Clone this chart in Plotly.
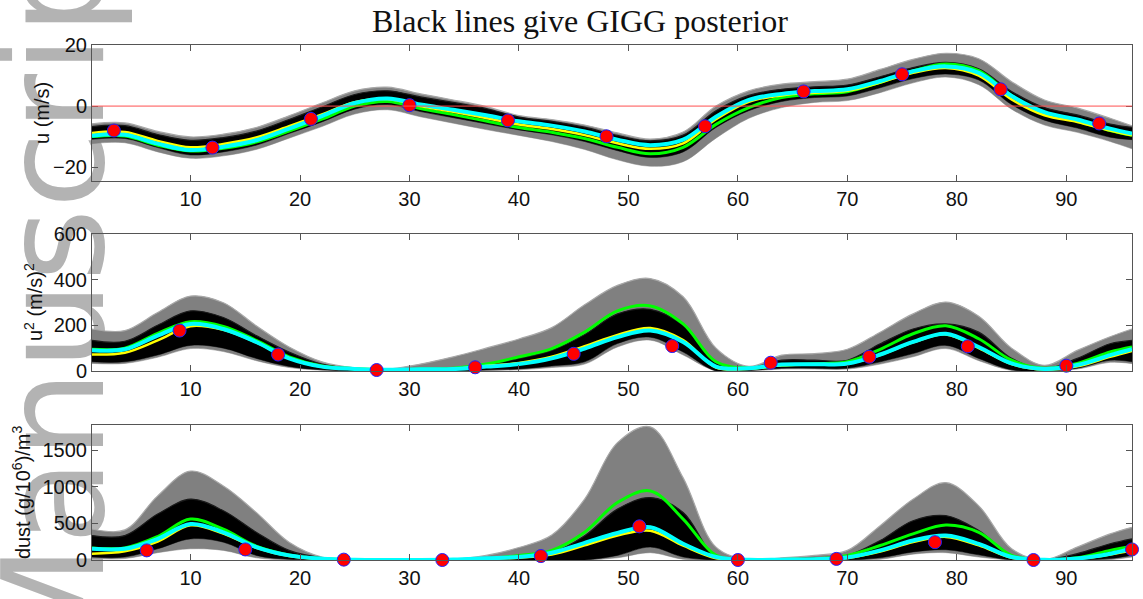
import plotly.graph_objects as go

# ---------------- data ----------------
X = [1, 4, 7, 10, 13, 16, 19, 22, 25, 28, 31, 34, 37, 40, 43, 46, 49, 52, 55, 58, 61,
     64, 67, 70, 73, 76, 79, 82, 85, 88, 91, 94, 96]

# panel 1 : u (m/s)
u_obs_x = [3, 12, 21, 30, 39, 48, 57, 66, 75, 84, 93]
u_obs = [-8.0, -13.6, -4.2, 0.3, -4.7, -9.9, -6.6, 4.8, 10.4, 5.5, -5.7]
u_cyan = [-9.7, -9.4, -12.3, -14.4, -13.3, -11.2, -7.4, -3.3, 1.0, 2.5, 0.5, -1.2, -3.0, -5.0, -6.4,
          -8.3, -11.0, -12.8, -11.0, -3.5, 2.0, 4.0, 4.9, 5.5, 8.2, 11.4, 13.0, 10.9, 3.3, -2.0,
          -4.4, -7.4, -9.0]
u_yellow = [-8.8, -8.5, -11.4, -13.5, -12.4, -10.3, -6.6, -2.7, 1.3, 2.3, 0.0, -1.9, -3.9, -6.0,
            -7.5, -9.5, -12.2, -14.0, -12.2, -4.3, 1.4, 3.5, 4.4, 5.0, 7.7, 10.9, 12.5, 10.0, 2.2,
            -3.0, -5.2, -8.0, -9.6]
u_green = [-10.0, -9.8, -12.8, -14.7, -13.8, -11.8, -8.2, -4.3, 0.0, 1.5, -0.8, -2.8, -4.9, -7.0,
           -8.6, -10.6, -13.5, -15.6, -13.5, -6.0, -0.5, 2.8, 4.0, 4.7, 7.8, 11.5, 13.8, 11.6, 3.5,
           -2.4, -5.0, -8.0, -9.6]
u_black_hi = [-6.7, -6.4, -9.3, -11.2, -10.3, -8.2, -4.4, -0.3, 3.8, 5.0, 3.0, 1.2, -0.8, -3.6,
              -5.0, -6.9, -9.6, -11.4, -9.5, -1.5, 3.5, 5.5, 6.3, 6.9, 9.6, 12.6, 14.3, 12.2, 4.8,
              -0.5, -2.9, -5.9, -7.0]
u_black_lo = [-10.9, -10.6, -13.6, -16.0, -15.0, -12.8, -9.0, -5.2, -1.0, 0.5, -1.8, -3.8, -5.8,
              -7.8, -9.4, -11.6, -14.6, -16.8, -15.0, -7.0, -1.5, 1.5, 2.8, 3.3, 6.0, 9.0, 10.5,
              8.5, 0.5, -4.6, -7.2, -10.2, -11.0]
u_grey_hi = [-5.8, -5.5, -8.3, -10.1, -9.2, -7.0, -3.2, 1.0, 5.0, 6.2, 4.0, 2.0, -0.2, -3.1, -4.4,
             -6.2, -8.8, -10.8, -8.5, 0.0, 5.0, 7.2, 8.0, 8.8, 12.0, 15.3, 17.3, 15.5, 8.0, 2.0,
             -0.6, -4.0, -6.5]
u_grey_lo = [-12.3, -12.0, -15.0, -17.1, -16.3, -14.2, -10.5, -6.7, -2.6, -1.2, -3.5, -5.6, -7.7,
             -9.6, -11.6, -14.2, -17.6, -19.7, -18.2, -10.5, -4.0, -0.5, 1.2, 1.8, 4.4, 7.6, 9.5,
             7.0, -1.0, -6.2, -8.6, -11.6, -14.0]

# panel 2 : u^2
u2_obs_x = [9, 18, 27, 36, 45, 54, 63, 72, 81, 90]
u2_obs = [177, 72, 4, 16, 75, 109, 36, 62, 108, 23]
u2_cyan = [91, 95, 155, 206, 184, 127, 55, 19, 9, 5, 7, 8, 19, 30, 55, 98, 148, 177, 127, 19, 12,
           28, 29, 33, 72, 127, 163, 105, 33, 9, 26, 69, 95]
u2_yellow = [72, 80, 134, 196, 180, 125, 55, 18, 8, 5, 7, 9, 22, 35, 62, 108, 158, 188, 135, 15, 10,
             25, 28, 32, 70, 125, 160, 100, 30, 6, 20, 62, 88]
u2_green = [95, 100, 165, 216, 195, 134, 62, 22, 10, 6, 8, 12, 30, 62, 98, 170, 263, 285, 206, 40,
            12, 26, 32, 40, 95, 163, 198, 141, 47, 12, 33, 83, 105]
u2_black_hi = [134, 130, 200, 263, 234, 155, 83, 30, 10, 6, 8, 14, 28, 55, 90, 160, 250, 270, 200,
               35, 12, 47, 47, 47, 119, 184, 206, 170, 55, 10, 55, 119, 134]
u2_black_lo = [40, 40, 70, 112, 100, 55, 20, 5, 0, 0, 0, 0, 4, 9, 22, 40, 120, 148, 83, 0, 2, 12,
               12, 12, 40, 76, 112, 55, 5, 0, 12, 47, 40]
u2_grey_hi = [184, 177, 256, 328, 299, 198, 105, 40, 14, 8, 30, 62, 100, 140, 190, 290, 375, 405,
              325, 100, 20, 69, 76, 95, 170, 250, 302, 240, 100, 25, 90, 150, 184]
u2_grey_lo = [33, 33, 60, 98, 85, 45, 15, 3, 0, 0, 0, 0, 2, 5, 15, 30, 105, 135, 70, 0, 0, 8, 8, 8,
              30, 62, 98, 45, 2, 0, 8, 38, 32]

# panel 3 : dust
d_obs_x = [6, 15, 24, 33, 42, 51, 60, 69, 78, 87, 96]
d_obs = [131, 144, 5, 0, 54, 459, 0, 15, 243, 0, 144]
d_cyan = [153, 153, 288, 491, 378, 176, 63, 18, 3, 0, 0, 6, 24, 42, 99, 234, 369, 446, 221, 41, 2,
          5, 10, 35, 131, 266, 333, 221, 41, 2, 20, 86, 153]
d_yellow = [86, 118, 250, 473, 360, 165, 55, 15, 2, 0, 0, 3, 16, 32, 75, 200, 335, 400, 195, 25, 1,
            4, 8, 28, 115, 245, 315, 200, 30, 1, 15, 75, 135]
d_green = [165, 165, 320, 558, 420, 190, 70, 20, 3, 0, 0, 5, 15, 63, 131, 378, 784, 942, 558, 63, 3,
           8, 15, 63, 198, 356, 477, 378, 63, 3, 30, 131, 189]
d_black_hi = [333, 333, 626, 829, 671, 378, 131, 30, 5, 0, 0, 3, 15, 41, 100, 330, 694, 851, 649,
              41, 3, 15, 30, 63, 266, 536, 604, 401, 63, 3, 86, 221, 288]
d_black_lo = [41, 41, 153, 288, 243, 63, 10, 0, 0, 0, 0, 0, 0, 0, 0, 0, 63, 176, 41, 0, 0, 0, 0, 0,
              30, 110, 140, 70, 0, 0, 0, 20, 63]
d_grey_hi = [423, 410, 874, 1212, 1009, 649, 243, 41, 8, 0, 0, 10, 63, 170, 340, 830, 1600, 1815,
             1120, 175, 5, 30, 63, 131, 468, 829, 1054, 739, 153, 5, 176, 356, 446]
d_grey_lo = [20, 20, 100, 153, 131, 30, 0, 0, 0, 0, 0, 0, 0, 0, 0, 0, 30, 100, 10, 0, 0, 0, 0, 0,
             10, 80, 100, 40, 0, 0, 0, 5, 40]

X_TICKS = [10, 20, 30, 40, 50, 60, 70, 80, 90]
Y1_TICKS = [-20, 0, 20]
Y2_TICKS = [0, 200, 400, 600]
Y3_TICKS = [0, 500, 1000, 1500]

# ---------------- figure ----------------
fig = go.Figure()


def band(xa, ya, lo, hi, color, edge):
    fig.add_trace(go.Scatter(x=X, y=lo, mode="lines", xaxis=xa, yaxis=ya,
                             line=dict(color=color, width=0.5, shape="spline"),
                             showlegend=False, hoverinfo="skip"))
    fig.add_trace(go.Scatter(x=X, y=hi, mode="lines", xaxis=xa, yaxis=ya, fill="tonexty",
                             fillcolor=color, line=dict(color=edge, width=1.2, shape="spline"),
                             showlegend=False, hoverinfo="skip"))


def line(xa, ya, y, color, w):
    fig.add_trace(go.Scatter(x=X, y=y, mode="lines", xaxis=xa, yaxis=ya,
                             line=dict(color=color, width=w, shape="spline"),
                             showlegend=False, hoverinfo="skip"))


def dots(xa, ya, ox, oy):
    fig.add_trace(go.Scatter(x=ox, y=oy, mode="markers", xaxis=xa, yaxis=ya, cliponaxis=False,
                             marker=dict(color="#ff0000", size=13,
                                         line=dict(color="#2020ff", width=1)),
                             showlegend=False, hoverinfo="skip"))


panels = [
    ("x", "y", u_grey_lo, u_grey_hi, u_black_lo, u_black_hi, u_green, u_yellow, u_cyan, u_obs_x, u_obs),
    ("x2", "y2", u2_grey_lo, u2_grey_hi, u2_black_lo, u2_black_hi, u2_green, u2_yellow, u2_cyan, u2_obs_x, u2_obs),
    ("x3", "y3", d_grey_lo, d_grey_hi, d_black_lo, d_black_hi, d_green, d_yellow, d_cyan, d_obs_x, d_obs),
]
for xa, ya, glo, ghi, blo, bhi, gr, ye, cy, ox, oy in panels:
    band(xa, ya, glo, ghi, "#808080", "#a8a8a8")
    band(xa, ya, blo, bhi, "#000000", "#1a1a1a")
    line(xa, ya, gr, "#00ff00", 3)
    line(xa, ya, ye, "#ffff00", 2.5)
    line(xa, ya, cy, "#00ffff", 4)
    dots(xa, ya, ox, oy)

axis_common = dict(showline=True, linecolor="#555555", linewidth=1, mirror="ticks",
                   ticks="inside", ticklen=6, tickcolor="#555555", showgrid=False,
                   zeroline=False,
                   tickfont=dict(family="Liberation Sans, Arial", size=20, color="#111111"))

# plot area: x 92..1133, y 45..568
fig.update_layout(
    width=1143, height=599,
    margin=dict(l=92, r=10, t=45, b=31),
    paper_bgcolor="white", plot_bgcolor="rgba(0,0,0,0)",
    xaxis=dict(axis_common, domain=[0, 1], range=[1, 96], tickvals=X_TICKS, anchor="y"),
    xaxis2=dict(axis_common, domain=[0, 1], range=[1, 96], tickvals=X_TICKS, anchor="y2"),
    xaxis3=dict(axis_common, domain=[0, 1], range=[1, 96], tickvals=X_TICKS, anchor="y3"),
    yaxis=dict(axis_common, domain=[0.7361, 1.0], range=[-24.5, 20], tickvals=Y1_TICKS, anchor="x"),
    yaxis2=dict(axis_common, domain=[0.3671, 0.6329], range=[0, 600], tickvals=Y2_TICKS, anchor="x2"),
    yaxis3=dict(axis_common, domain=[0.0, 0.2620], range=[0, 1840], tickvals=Y3_TICKS, anchor="x3"),
)

# red zero line in top panel
fig.add_shape(type="line", xref="x domain", yref="y", x0=0, x1=1, y0=0, y1=0,
              line=dict(color="#ff5050", width=1), layer="above")

# watermark (drawn beneath the traces)
wm_cx, wm_cy = 44, 282
fig.add_shape(type="rect", xref="paper", yref="paper",
              x0=(wm_cx - 60 - 92) / 1041, x1=(wm_cx + 60 - 92) / 1041,
              y0=(568 - wm_cy - 400) / 523, y1=(568 - wm_cy + 400) / 523,
              line=dict(width=0), fillcolor="rgba(0,0,0,0)", layer="below",
              label=dict(text="Manuscript", textangle=-90, textposition="middle center",
                         font=dict(family="DejaVu Sans", size=140, color="#b3b3b3")))

title_font = dict(family="Liberation Serif, Times New Roman", size=32, color="#111111")
lab_font = dict(family="Liberation Sans, Arial", size=20, color="#111111")
fig.add_annotation(text="Black lines give GIGG posterior", xref="paper", yref="paper",
                   x=(580 - 92) / 1041, y=(568 - 21) / 523, xanchor="center", yanchor="middle",
                   showarrow=False, font=title_font)
fig.add_annotation(text="u (m/s)", xref="paper", yref="paper", textangle=-90,
                   x=(42 - 92) / 1041, y=(568 - 114) / 523, xanchor="center", yanchor="middle",
                   showarrow=False, font=lab_font)
fig.add_annotation(text="u<sup>2</sup> (m/s)<sup>2</sup>", xref="paper", yref="paper", textangle=-90,
                   x=(33 - 92) / 1041, y=(568 - 306) / 523, xanchor="center", yanchor="middle",
                   showarrow=False, font=lab_font)
fig.add_annotation(text="dust (g/10<sup>6</sup>)/m<sup>3</sup>", xref="paper", yref="paper",
                   textangle=-90, x=(21 - 92) / 1041, y=(568 - 499) / 523, xanchor="center",
                   yanchor="middle", showarrow=False, font=lab_font)

fig.write_html("out.html")
